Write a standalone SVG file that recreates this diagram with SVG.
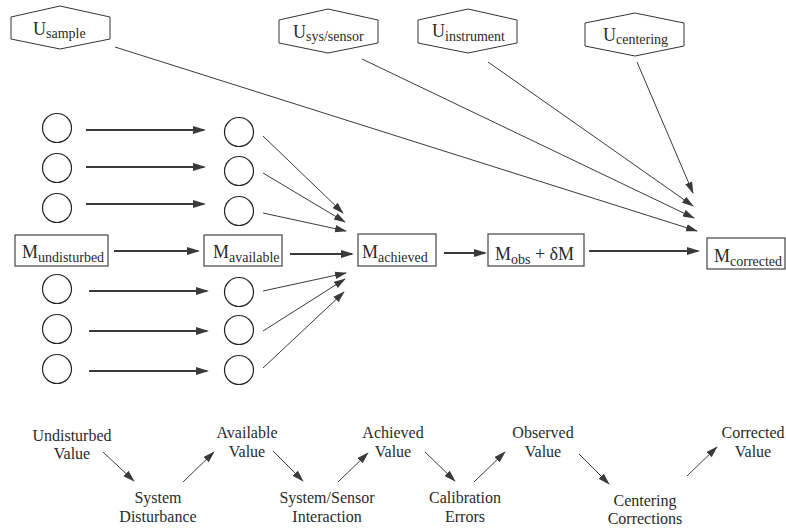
<svg xmlns="http://www.w3.org/2000/svg" width="786" height="529" viewBox="0 0 786 529">
<defs>
<style>
text{font-family:"Liberation Serif","Times New Roman",serif;fill:#2a2a2a}
.big{font-size:18px}
.sub{font-size:14px}
.lbl{font-size:16px;text-anchor:middle}
.hex{fill:#fff;stroke:#333;stroke-width:1}
.box{fill:#fff;stroke:#444;stroke-width:1.2}
.circ{fill:none;stroke:#222;stroke-width:1.2}
.thick{stroke:#3a3a3a;stroke-width:2;fill:none;marker-end:url(#ah)}
.thin{stroke:#3a3a3a;stroke-width:1;fill:none;marker-end:url(#ahs)}
</style>
<marker id="ah" markerUnits="userSpaceOnUse" markerWidth="14" markerHeight="10" refX="11" refY="4" orient="auto"><path d="M0,0 L13,4 L0,8 z" fill="#3a3a3a"/></marker>
<marker id="ahs" markerUnits="userSpaceOnUse" markerWidth="14" markerHeight="10" refX="11" refY="4" orient="auto"><path d="M0,0.3 L12,4 L0,7.7 z" fill="#3a3a3a"/></marker>
</defs>

<g id="connectors">
<line class="thin" x1="115" y1="47" x2="697" y2="231"/>
<line class="thin" x1="362" y1="59" x2="694" y2="218"/>
<line class="thin" x1="488" y1="62" x2="693" y2="206"/>
<line class="thin" x1="637" y1="62" x2="693" y2="193"/>
<line class="thick" x1="86" y1="130" x2="204" y2="130"/>
<line class="thick" x1="86" y1="167" x2="204" y2="167"/>
<line class="thick" x1="86" y1="204" x2="204" y2="204"/>
<line class="thick" x1="89" y1="291" x2="207" y2="291"/>
<line class="thick" x1="89" y1="331" x2="207" y2="331"/>
<line class="thick" x1="89" y1="371" x2="207" y2="371"/>
<line class="thick" x1="114" y1="251" x2="198" y2="251"/>
<line class="thick" x1="290" y1="254" x2="352" y2="254"/>
<line class="thick" x1="444" y1="253" x2="485" y2="253"/>
<line class="thick" x1="589" y1="251" x2="698" y2="251"/>
<line class="thin" x1="263" y1="136" x2="343" y2="213"/>
<line class="thin" x1="263" y1="173" x2="345" y2="222"/>
<line class="thin" x1="263" y1="213" x2="346" y2="231"/>
<line class="thin" x1="263" y1="291" x2="346" y2="273"/>
<line class="thin" x1="263" y1="331" x2="345" y2="279"/>
<line class="thin" x1="263" y1="368" x2="344" y2="292"/>
<line class="thin" x1="103" y1="452" x2="134" y2="481"/>
<line class="thin" x1="183" y1="482" x2="214" y2="452"/>
<line class="thin" x1="273" y1="451" x2="303" y2="481"/>
<line class="thin" x1="338" y1="482" x2="368" y2="453"/>
<line class="thin" x1="425" y1="452" x2="455" y2="481"/>
<line class="thin" x1="474" y1="482" x2="505" y2="452"/>
<line class="thin" x1="579" y1="454" x2="609" y2="484"/>
<line class="thin" x1="687" y1="476" x2="717" y2="447"/>
</g>

<g id="u_sample"><polygon class="hex" points="11,17 60,6 110,17 110,39 60,49 11,39"/><text class="big" x="33" y="35">U<tspan class="sub" dy="3">sample</tspan></text></g>
<g id="u_sys_sensor"><polygon class="hex" points="279,20 328,9 378,20 378,43 328,53 279,43"/><text class="big" x="293" y="38">U<tspan class="sub" dy="3">sys/sensor</tspan></text></g>
<g id="u_instrument"><polygon class="hex" points="418,20 468,9 517,20 517,43 468,53 418,43"/><text class="big" x="432" y="37">U<tspan class="sub" dy="4">instrument</tspan></text></g>
<g id="u_centering"><polygon class="hex" points="585,23 635,13 684,23 684,46 635,56 585,46"/><text class="big" x="603" y="41">U<tspan class="sub" dy="3">centering</tspan></text></g>

<g id="circles_left">
<circle class="circ" cx="57" cy="128" r="14.5"/>
<circle class="circ" cx="57" cy="168" r="14.5"/>
<circle class="circ" cx="57" cy="208" r="14.5"/>
<circle class="circ" cx="57" cy="289" r="14.5"/>
<circle class="circ" cx="57" cy="329" r="14.5"/>
<circle class="circ" cx="57" cy="369" r="14.5"/>
</g>
<g id="circles_mid">
<circle class="circ" cx="239" cy="132" r="14.5"/>
<circle class="circ" cx="239" cy="171" r="14.5"/>
<circle class="circ" cx="239" cy="211" r="14.5"/>
<circle class="circ" cx="239" cy="292" r="14.5"/>
<circle class="circ" cx="239" cy="330" r="14.5"/>
<circle class="circ" cx="239" cy="370" r="14.5"/>
</g>

<g id="m_undisturbed"><rect class="box" x="15" y="235" width="93" height="31"/><text class="big" x="22" y="258">M<tspan class="sub" dy="4">undisturbed</tspan></text></g>
<g id="m_available"><rect class="box" x="204" y="235" width="78" height="31"/><text class="big" x="213" y="258">M<tspan class="sub" dy="4">available</tspan></text></g>
<g id="m_achieved"><rect class="box" x="358" y="234" width="78" height="32"/><text class="big" x="362" y="258">M<tspan class="sub" dy="4">achieved</tspan></text></g>
<g id="m_obs"><rect class="box" x="488" y="234" width="96" height="32"/><text class="big" x="495" y="260">M<tspan class="sub" dy="4">obs</tspan><tspan dy="-4"> + δM</tspan></text></g>
<g id="m_corrected"><rect class="box" x="707" y="238" width="78" height="31"/><text class="big" x="714" y="262">M<tspan class="sub" dy="4">corrected</tspan></text></g>

<g id="lbl_undisturbed"><text class="lbl" x="72" y="441">Undisturbed</text><text class="lbl" x="72" y="459">Value</text></g>
<g id="lbl_system"><text class="lbl" x="158" y="503">System</text><text class="lbl" x="158" y="522">Disturbance</text></g>
<g id="lbl_available"><text class="lbl" x="247" y="438">Available</text><text class="lbl" x="247" y="457">Value</text></g>
<g id="lbl_syssensor"><text class="lbl" x="327" y="503">System/Sensor</text><text class="lbl" x="327" y="522">Interaction</text></g>
<g id="lbl_achieved"><text class="lbl" x="393" y="438">Achieved</text><text class="lbl" x="393" y="457">Value</text></g>
<g id="lbl_calibration"><text class="lbl" x="465" y="503">Calibration</text><text class="lbl" x="465" y="522">Errors</text></g>
<g id="lbl_observed"><text class="lbl" x="543" y="438">Observed</text><text class="lbl" x="543" y="457">Value</text></g>
<g id="lbl_centering"><text class="lbl" x="645" y="506">Centering</text><text class="lbl" x="645" y="524">Corrections</text></g>
<g id="lbl_corrected"><text class="lbl" x="753" y="438">Corrected</text><text class="lbl" x="753" y="457">Value</text></g>
</svg>
